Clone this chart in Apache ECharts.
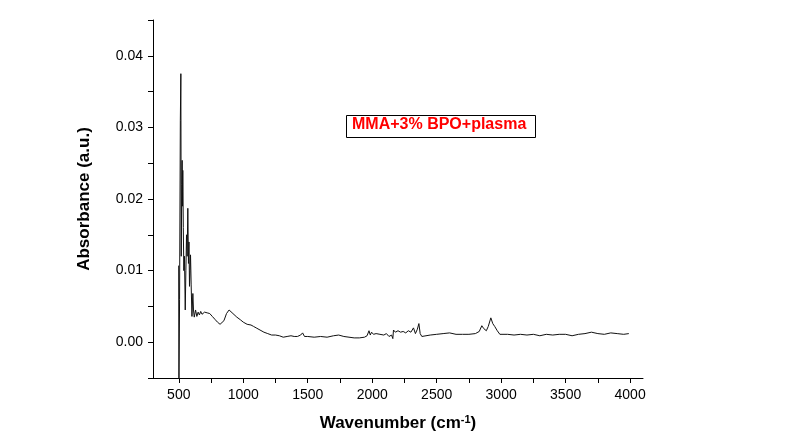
<!DOCTYPE html>
<html><head><meta charset="utf-8">
<script src="https://cdn.jsdelivr.net/npm/echarts@6/dist/echarts.min.js"></script>
<style>html,body{margin:0;padding:0;background:#fff}#c{width:802px;height:446px}</style>
</head><body><div id="c"></div>
<script>
var wavenumber = [499,501,506,512,516,519,523,526,529,531,535,539,544,550,555,560,565,570,575,579,583,587,591,596,602,609,614,620,630,640,650,660,670,680,700,720,740,760,780,800,820,835,850,870,890,900,920,950,980,1000,1030,1060,1080,1100,1130,1160,1190,1220,1250,1280,1310,1340,1370,1380,1395,1420,1445,1460,1475,1500,1550,1600,1650,1700,1740,1780,1820,1860,1900,1940,1960,1975,1985,1995,2010,2030,2060,2090,2110,2130,2150,2160,2165,2180,2200,2220,2240,2260,2280,2300,2320,2335,2350,2362,2372,2385,2400,2450,2500,2550,2600,2650,2700,2750,2800,2830,2850,2865,2885,2900,2920,2935,2950,2970,2990,3050,3100,3150,3200,3250,3300,3350,3400,3450,3500,3550,3600,3650,3700,3750,3800,3850,3900,3950,3990];
var absorbance = [0.0107,-0.0070,0.0060,0.0310,0.0375,0.0120,0.0220,0.0254,0.0190,0.0240,0.0160,0.0100,0.0120,0.0045,0.0100,0.0150,0.0120,0.0187,0.0110,0.0140,0.0078,0.0100,0.0122,0.0080,0.0036,0.0068,0.0045,0.0035,0.0045,0.0036,0.0042,0.0038,0.0043,0.0039,0.0042,0.0041,0.0040,0.0036,0.0032,0.0028,0.0025,0.0024,0.0030,0.0040,0.0045,0.0044,0.0040,0.0035,0.0031,0.0028,0.0025,0.0024,0.0022,0.0020,0.0017,0.0014,0.0012,0.0010,0.0010,0.0009,0.0007,0.0008,0.0009,0.0011,0.0008,0.0008,0.0010,0.0013,0.0008,0.0008,0.0007,0.0008,0.0007,0.0009,0.0010,0.0008,0.0007,0.0006,0.0006,0.0007,0.0009,0.0016,0.0010,0.0014,0.0011,0.0012,0.0011,0.0010,0.0012,0.0008,0.0010,0.0005,0.0017,0.0014,0.0016,0.0014,0.0015,0.0013,0.0016,0.0014,0.0020,0.0012,0.0018,0.0026,0.0012,0.0008,0.0009,0.0010,0.0011,0.0012,0.0013,0.0011,0.0011,0.0011,0.0012,0.0015,0.0023,0.0019,0.0016,0.0022,0.0034,0.0026,0.0022,0.0016,0.0011,0.0011,0.0010,0.0011,0.0010,0.0011,0.0009,0.0011,0.0010,0.0011,0.0011,0.0009,0.0011,0.0012,0.0014,0.0012,0.0011,0.0013,0.0012,0.0011,0.0012];
var xTickValues = [500,750,1000,1250,1500,1750,2000,2250,2500,2750,3000,3250,3500,3750,4000];
var xLabelValues = [500,1000,1500,2000,2500,3000,3500,4000];
var yTicks = ['0.00','0.01','0.02','0.03','0.04'];
var legendText = 'MMA+3% BPO+plasma';

var data = wavenumber.map(function(w,i){return [w, absorbance[i]];});
var chart = echarts.init(document.getElementById('c'), null, {renderer:'canvas'});
var font = '"Liberation Sans", Arial, sans-serif';
chart.setOption({
  animation:false,
  backgroundColor:'#fff',
  grid:{left:153,right:159,top:20,bottom:68,containLabel:false},
  xAxis:{type:'value',min:300,max:4100,
    name:'Wavenumber (cm{sup|-1})',nameLocation:'middle',nameGap:36,
    nameTextStyle:{fontFamily:font,fontWeight:'bold',fontSize:17,color:'#000',
      rich:{sup:{fontFamily:font,fontWeight:'bold',fontSize:11,color:'#000',verticalAlign:'top',padding:[0,0,8,0]}}},
    axisLine:{show:true,onZero:false,lineStyle:{color:'#000',width:1}},
    axisTick:{show:true,inside:false,length:5,customValues:xTickValues,lineStyle:{color:'#000'}},
    splitLine:{show:false},
    axisLabel:{margin:10,fontFamily:font,fontSize:14,color:'#000',customValues:xLabelValues,
      formatter:function(v){return String(v);}}
  },
  yAxis:{type:'value',min:-0.005,max:0.045,interval:0.005,
    name:'Absorbance (a.u.)',nameLocation:'middle',nameGap:60,
    nameTextStyle:{fontFamily:font,fontWeight:'bold',fontSize:17,color:'#000'},
    axisLine:{show:true,onZero:false,lineStyle:{color:'#000',width:1}},
    axisTick:{show:true,inside:false,length:5,lineStyle:{color:'#000'}},
    splitLine:{show:false},
    axisLabel:{margin:10,fontFamily:font,fontSize:14,color:'#000',
      formatter:function(v){var k=Math.round(v*1000); var s=(k/1000).toFixed(2);
        return (k%10===0 && yTicks.indexOf(s)>=0)? s:'';}}
  },
  series:[{type:'line',data:data,showSymbol:false,clip:true,
    lineStyle:{color:'#111',width:1},itemStyle:{color:'#111'}}],
  graphic:[
    {type:'rect',left:346,top:115,shape:{width:189,height:22},style:{fill:'#fff',stroke:'#000',lineWidth:1}},
    {type:'text',left:352,top:117,style:{text:legendText,font:'bold 16px '+font,fill:'#ff0000'}}
  ]
});
</script></body></html>
